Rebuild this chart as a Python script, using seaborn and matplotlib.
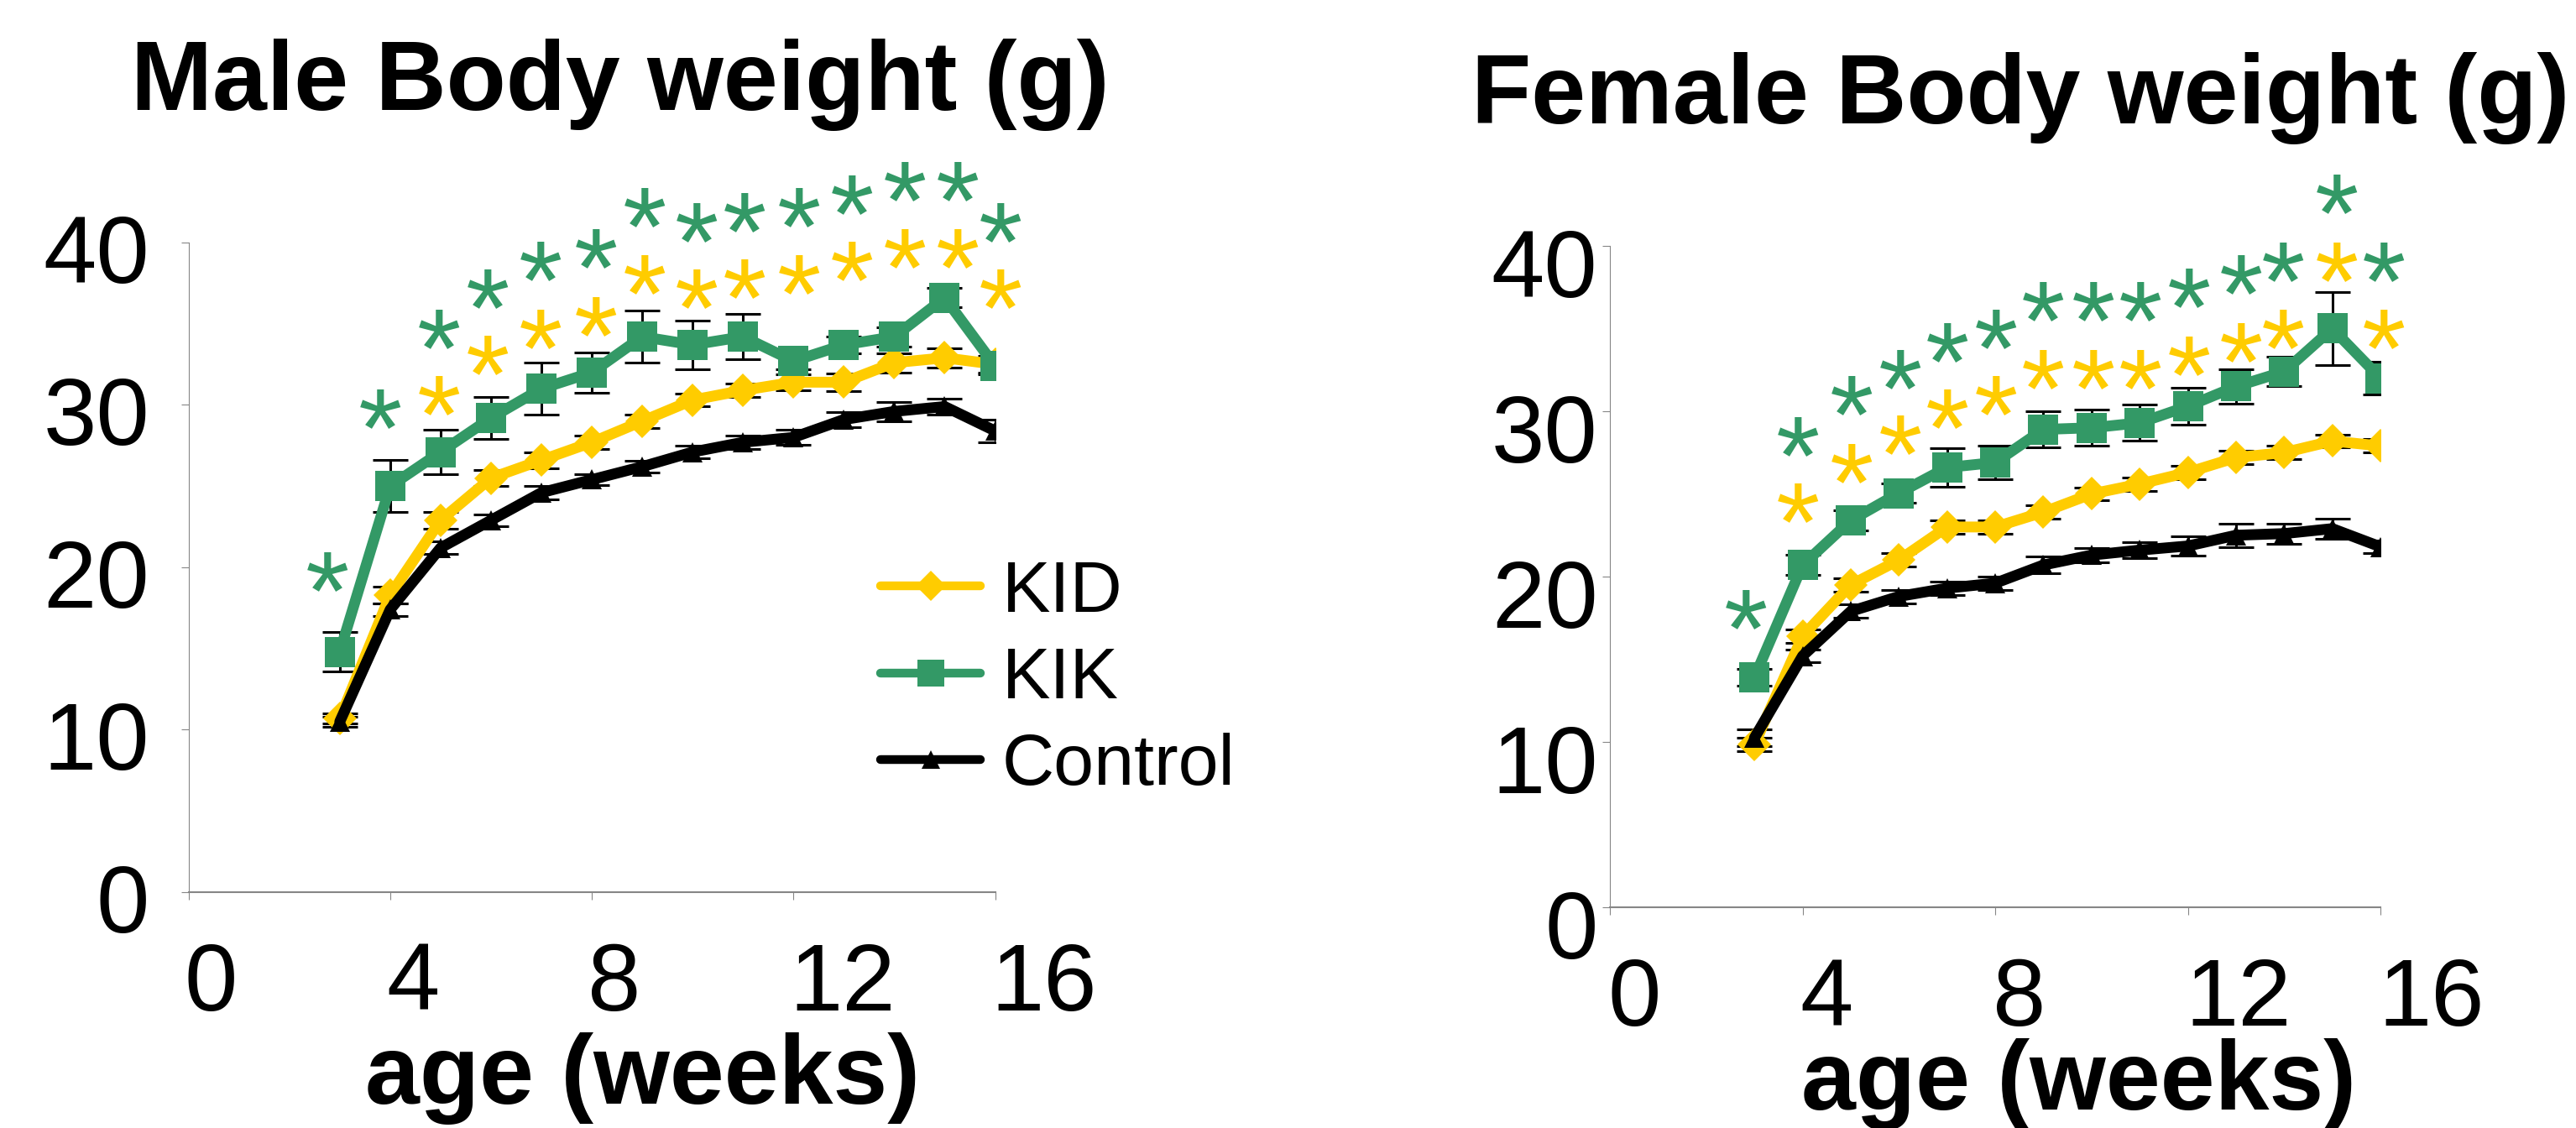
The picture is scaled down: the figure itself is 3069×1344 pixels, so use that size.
import matplotlib
matplotlib.use('Agg')
import matplotlib.pyplot as plt
import matplotlib.transforms as mtransforms
from matplotlib.font_manager import FontProperties
from matplotlib.textpath import TextPath
import seaborn as sns

# ---- data ----
weeks = [3, 4, 5, 6, 7, 8, 9, 10, 11, 12, 13, 14, 15, 16]

male_kid = [10.7, 18.3, 22.9, 25.5, 26.6, 27.7, 29.0, 30.3, 30.9, 31.4, 31.4, 32.6, 32.9, 32.5]
male_kik = [14.8, 25.0, 27.1, 29.2, 31.0, 32.0, 34.2, 33.7, 34.2, 32.7, 33.7, 34.2, 36.6, 32.4]
male_ctrl = [10.5, 17.4, 21.2, 22.9, 24.6, 25.4, 26.2, 27.1, 27.7, 28.0, 29.1, 29.6, 29.9, 28.4]
male_kid_err = [0.3, 0.5, 0.5, 0.5, 0.5, 0.4, 0.4, 0.4, 0.4, 0.5, 0.55, 0.6, 0.6, 0.5]
male_kik_err = [1.2, 1.6, 1.35, 1.3, 1.6, 1.25, 1.6, 1.5, 1.4, 0.5, 0.5, 0.6, 0.6, 0.5]
male_ctrl_err = [0.3, 0.4, 0.4, 0.35, 0.4, 0.35, 0.35, 0.4, 0.4, 0.45, 0.47, 0.6, 0.5, 0.7]

female_kid = [9.85, 16.4, 19.5, 21.0, 23.0, 23.0, 23.9, 25.0, 25.6, 26.3, 27.2, 27.5, 28.2, 27.9]
female_kik = [13.9, 20.7, 23.4, 25.05, 26.6, 26.9, 28.9, 29.0, 29.3, 30.3, 31.5, 32.4, 35.0, 32.0]
female_ctrl = [10.25, 15.2, 17.9, 18.8, 19.3, 19.6, 20.7, 21.3, 21.6, 21.85, 22.5, 22.6, 22.9, 21.8]
female_kid_err = [0.4, 0.4, 0.4, 0.4, 0.4, 0.4, 0.4, 0.4, 0.4, 0.4, 0.4, 0.4, 0.4, 0.4]
female_kik_err = [0.5, 0.6, 0.6, 0.6, 1.15, 1.0, 1.1, 1.1, 1.1, 1.1, 1.05, 0.9, 2.2, 1.0]
female_ctrl_err = [0.5, 0.4, 0.4, 0.4, 0.4, 0.4, 0.5, 0.45, 0.5, 0.6, 0.7, 0.6, 0.6, 0.4]

# significance asterisks (x in weeks, y in grams)
male_kik_star_x = [2.75, 3.8, 4.97, 5.94, 6.99, 8.09, 9.04, 10.08, 11.03, 12.11, 13.16, 14.21, 15.26, 16.11]
male_kik_star_y = [19.8, 29.8, 34.7, 37.2, 38.9, 39.7, 42.2, 41.3, 41.9, 42.2, 43.0, 43.8, 43.8, 41.3]
male_kid_star_x = [4.97, 5.94, 6.99, 8.09, 9.04, 10.08, 11.03, 12.11, 13.16, 14.21, 15.26, 16.11]
male_kid_star_y = [30.65, 33.1, 34.7, 35.5, 38.1, 37.2, 37.8, 38.1, 38.9, 39.7, 39.7, 37.2]

female_kik_star_x = [2.82, 3.9, 5.01, 6.03, 7.01, 8.01, 8.99, 10.04, 11.01, 12.02, 13.11, 13.97, 15.1, 16.07]
female_kik_star_y = [18.06, 28.5, 31.0, 32.6, 34.2, 35.0, 36.7, 36.7, 36.7, 37.5, 38.3, 39.1, 43.2, 39.1]
female_kid_star_x = [3.9, 5.01, 6.03, 7.01, 8.01, 8.99, 10.04, 11.01, 12.02, 13.11, 13.97, 15.1, 16.07]
female_kid_star_y = [24.5, 26.9, 28.6, 30.2, 31.0, 32.6, 32.6, 32.6, 33.4, 34.2, 35.0, 39.1, 35.0]

x_ticks = [0, 4, 8, 12, 16]
y_ticks = [0, 10, 20, 30, 40]

YELLOW = '#FFCC00'
GREEN = '#339966'
AXIS_GREY = '#868686'

sns.set_style('white')
plt.rcParams['font.family'] = ['Liberation Sans', 'DejaVu Sans']
plt.rcParams['text.color'] = 'black'
plt.rcParams['axes.labelcolor'] = 'black'

fig = plt.figure(figsize=(30.69, 13.44), dpi=100)
ax_m = fig.add_axes([0.0732, 0.2091, 0.3131, 0.5759])
ax_f = fig.add_axes([0.6250, 0.1957, 0.2991, 0.5863])

# asterisk glyph geometry, so stars can be centred on their point
fp = FontProperties(family='Liberation Sans')
ext = TextPath((0, 0), '*', size=100, prop=fp).get_extents()
star_fs = 34 / (ext.height / 100)
star_cx = (ext.x0 + ext.x1) / 2 * star_fs / 100
star_cy = (ext.y0 + ext.y1) / 2 * star_fs / 100


def draw_panel(ax, kid, kik, ctrl, kid_err, kik_err, ctrl_err, stars, with_labels):
    series = [
        (kid, kid_err, YELLOW, 'D', 20, 'KID'),
        (kik, kik_err, GREEN, 's', 26, 'KIK'),
        (ctrl, ctrl_err, 'black', '^', 17, 'Control'),
    ]
    for vals, err, color, marker, ms, name in series:
        ax.errorbar(weeks, vals, yerr=err, fmt='none', ecolor='black',
                    elinewidth=2.2, capsize=15, capthick=2.2, zorder=1)
    for vals, err, color, marker, ms, name in series:
        kws = dict(color=color, marker=marker, markersize=ms, markeredgewidth=0,
                   markeredgecolor=color, linewidth=9.3, zorder=3)
        if with_labels:
            kws['label'] = name
        sns.lineplot(x=weeks, y=vals, ax=ax, **kws)

    star_trans = mtransforms.offset_copy(ax.transData, fig=fig, x=-star_cx,
                                         y=-star_cy, units='points')
    for sx, sy, color in stars:
        for x, y in zip(sx, sy):
            ax.text(x, y, '*', transform=star_trans, ha='left', va='baseline',
                    fontsize=star_fs, color=color, clip_on=False)

    ax.set_xlim(0, 16)
    ax.set_ylim(0, 40)
    ax.set_xticks(x_ticks, labels=[str(t) for t in x_ticks], ha='left')
    ax.set_yticks(y_ticks)
    ax.set_ylabel('')
    sns.despine(ax=ax)
    ax.spines['left'].set_color(AXIS_GREY)
    ax.spines['left'].set_linewidth(0.8)
    ax.spines['bottom'].set_color(AXIS_GREY)
    ax.spines['bottom'].set_linewidth(1.5)
    ax.tick_params(axis='both', which='major', bottom=True, left=True,
                   direction='out', length=6.5, width=0.8, color=AXIS_GREY,
                   labelsize=82, labelcolor='black')


draw_panel(ax_m, male_kid, male_kik, male_ctrl, male_kid_err, male_kik_err, male_ctrl_err,
           [(male_kik_star_x, male_kik_star_y, GREEN), (male_kid_star_x, male_kid_star_y, YELLOW)],
           True)
draw_panel(ax_f, female_kid, female_kik, female_ctrl, female_kid_err, female_kik_err, female_ctrl_err,
           [(female_kik_star_x, female_kik_star_y, GREEN), (female_kid_star_x, female_kid_star_y, YELLOW)],
           False)

ax_m.tick_params(axis='y', pad=27)
ax_m.tick_params(axis='x', pad=36)
ax_f.tick_params(axis='y', pad=4)
ax_f.tick_params(axis='x', pad=36)

# small label shifts seen in the reference
for ax, dx, dy_y in [(ax_m, -5, -7), (ax_f, -3, -20)]:
    for lab in ax.get_xticklabels():
        lab.set_transform(lab.get_transform() + mtransforms.ScaledTranslation(dx / 100, 0, fig.dpi_scale_trans))
    for lab in ax.get_yticklabels():
        lab.set_transform(lab.get_transform() + mtransforms.ScaledTranslation(0, dy_y / 100, fig.dpi_scale_trans))

ax_m.set_title('Male Body weight (g)', fontsize=84, fontweight='bold', color='black',
               x=0.5354, y=1.2041, pad=0, va='baseline')
ax_f.set_title('Female Body weight (g)', fontsize=84, fontweight='bold', color='black',
               x=0.5332, y=1.1853, pad=0, va='baseline')

ax_m.set_xlabel('age (weeks)', fontsize=84, fontweight='bold', va='baseline')
ax_m.xaxis.set_label_coords(0.5625, -0.3256)
ax_f.set_xlabel('age (weeks)', fontsize=84, fontweight='bold', va='baseline')
ax_f.xaxis.set_label_coords(0.6078, -0.3058)

leg = ax_m.legend(loc='center left', bbox_to_anchor=(0.858, 0.327), frameon=False,
                  fontsize=62, handlelength=1.38, handletextpad=0.3, labelspacing=0.27,
                  borderpad=0, borderaxespad=0, markerscale=0.9)
for txt in leg.get_texts():
    txt.set_color('black')
for line in leg.get_lines():
    line.set_linewidth(7.5)

fig.savefig('out.png', dpi=100)
